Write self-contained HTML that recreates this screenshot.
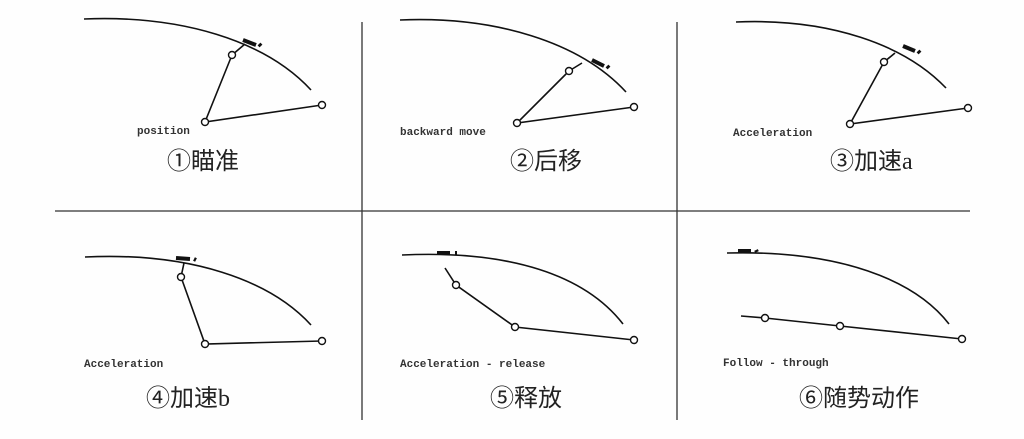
<!DOCTYPE html>
<html><head><meta charset="utf-8"><style>
html,body{margin:0;padding:0;background:#fff;}
svg{display:block}
.s{font-family:"Liberation Mono",monospace;font-size:11px;font-weight:bold;fill:#333;}
.t{font-family:"Noto Sans CJK SC",sans-serif;font-size:24px;fill:#222;}
.l{font-family:"Liberation Serif",serif;}
</style></head><body>
<svg width="1024" height="439" viewBox="0 0 1024 439" xmlns="http://www.w3.org/2000/svg">
<rect width="1024" height="439" fill="#fefefe"/>
<g stroke="#333" stroke-width="1.3" fill="none">
<line x1="362" y1="22" x2="362" y2="420"/>
<line x1="677" y1="22" x2="677" y2="420"/>
<line x1="55" y1="211" x2="970" y2="211"/>
</g>
<g stroke="#111" stroke-width="1.6" fill="none">
<path d="M84,19 C180,15 265,40 311,90"/>
<path d="M232,55 L245,44 M232,55 L205,122 L322,105"/>
<path d="M243,40 L256,45" stroke-width="4"/><path d="M259,44 L261,46" stroke-width="4"/>
<path d="M400,20 C495,16 580,42 626,92"/>
<path d="M569,71 L582,63 M569,71 L517,123 L634,107"/>
<path d="M592,60 L604,66" stroke-width="4"/><path d="M607,66 L609,68" stroke-width="4"/>
<path d="M736,22 C830,18 905,45 946,88"/>
<path d="M884,62 L895,53 M884,62 L850,124 L968,108"/>
<path d="M903,46 L915,51" stroke-width="4"/><path d="M918,51 L920,53" stroke-width="4"/>
<path d="M85,257 C190,252 270,280 311,325"/>
<path d="M181,277 L184,263 M181,277 L205,344 L322,341"/>
<path d="M176,258 L190,259" stroke-width="4"/><path d="M194,259 L196,260" stroke-width="4"/>
<path d="M402,255 C510,250 585,275 623,324"/>
<path d="M445,268 L456,285 L515,327 L634,340"/>
<path d="M437,253 L450,253" stroke-width="4"/><path d="M455,253 L457,253" stroke-width="4"/>
<path d="M727,253 C840,250 915,280 949,324"/>
<path d="M741,316 L765,318 L840,326 L962,339"/>
<path d="M738,251 L751,251" stroke-width="4"/><path d="M756,250 L757,252" stroke-width="4"/>
</g>
<g stroke="#111" stroke-width="1.4" fill="#fff">
<circle cx="232" cy="55" r="3.5"/><circle cx="205" cy="122" r="3.5"/><circle cx="322" cy="105" r="3.5"/>
<circle cx="569" cy="71" r="3.5"/><circle cx="517" cy="123" r="3.5"/><circle cx="634" cy="107" r="3.5"/>
<circle cx="884" cy="62" r="3.5"/><circle cx="850" cy="124" r="3.5"/><circle cx="968" cy="108" r="3.5"/>
<circle cx="181" cy="277" r="3.5"/><circle cx="205" cy="344" r="3.5"/><circle cx="322" cy="341" r="3.5"/>
<circle cx="456" cy="285" r="3.5"/><circle cx="515" cy="327" r="3.5"/><circle cx="634" cy="340" r="3.5"/>
<circle cx="765" cy="318" r="3.5"/><circle cx="840" cy="326" r="3.5"/><circle cx="962" cy="339" r="3.5"/>
</g>
<text class="s" x="137" y="134">position</text>
<text class="s" x="400" y="135">backward move</text>
<text class="s" x="733" y="136">Acceleration</text>
<text class="s" x="84" y="367">Acceleration</text>
<text class="s" x="400" y="367">Acceleration - release</text>
<text class="s" x="723" y="366">Follow - through</text>
<text class="t" x="167" y="169">①瞄准</text>
<text class="t" x="510" y="169">②后移</text>
<text class="t" x="830" y="169">③加速<tspan class="l">a</tspan></text>
<text class="t" x="146" y="406">④加速<tspan class="l">b</tspan></text>
<text class="t" x="490" y="406">⑤释放</text>
<text class="t" x="799" y="406">⑥随势动作</text>
</svg>
</body></html>
